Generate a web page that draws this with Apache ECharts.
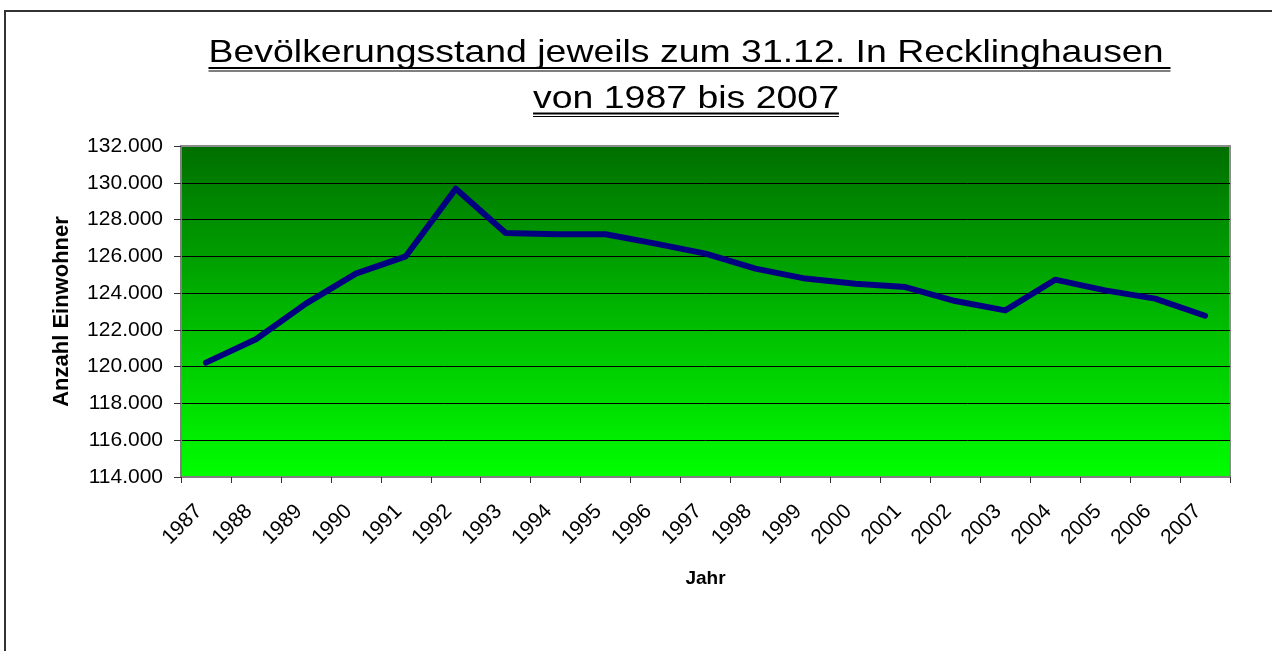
<!DOCTYPE html>
<html><head><meta charset="utf-8">
<script src="https://cdn.jsdelivr.net/npm/echarts@6/dist/echarts.min.js"></script>
<style>html,body{margin:0;padding:0;background:#fff;overflow:hidden}#c{width:1272px;height:651px}</style>
</head><body><div id="c"></div>
<script>
const years = ['1987','1988','1989','1990','1991','1992','1993','1994','1995','1996','1997','1998','1999','2000','2001','2002','2003','2004','2005','2006','2007'];
const population = [120220,121490,123430,125060,126000,129680,127270,127200,127200,126690,126150,125330,124790,124510,124330,123570,123060,124730,124150,123700,122770];
const yMin = 114000, yMax = 132000, yStep = 2000;
const titleLines = ['Bevölkerungsstand jeweils zum 31.12. In Recklinghausen', 'von 1987 bis 2007'];
const xName = 'Jahr';
const yName = 'Anzahl Einwohner';

const FONT = '"Liberation Sans", Arial, sans-serif';
const TITLE_SIZE = 32;
const cv = document.createElement('canvas').getContext('2d');
cv.font = TITLE_SIZE + 'px ' + FONT;
const w1 = cv.measureText(titleLines[0]).width;
const w2 = cv.measureText(titleLines[1]).width;
const sx = 955 / w1;
const cx = 686;
const lineDefs = [
  {text: titleLines[0], y: 53, w: w1 * sx, extra: 7, ul: 68},
  {text: titleLines[1], y: 99, w: w2 * sx, extra: 0, ul: 113.5}
];
const graphics = [
  {type: 'rect', shape: {x: 5, y: 11, width: 1400, height: 800}, style: {fill: 'none', stroke: '#333', lineWidth: 2}, silent: true}
];
lineDefs.forEach(d => {
  graphics.push({type: 'text', x: cx, y: d.y, scaleX: sx, originX: 0,
    style: {text: d.text, font: TITLE_SIZE + 'px ' + FONT, fill: '#000', textAlign: 'center', textVerticalAlign: 'middle'}});
  const x0 = cx - d.w / 2, x1 = cx + d.w / 2 + d.extra;
  graphics.push({type: 'line', shape: {x1: x0, y1: d.ul, x2: x1, y2: d.ul}, style: {stroke: '#000', lineWidth: 2.2}});
  graphics.push({type: 'line', shape: {x1: x0, y1: d.ul + 3, x2: x1, y2: d.ul + 3}, style: {stroke: '#000', lineWidth: 1.2}});
});

const fmt = v => String(v).replace(/\B(?=(\d{3})+(?!\d))/g, '.');
const chart = echarts.init(document.getElementById('c'), null, {renderer: 'canvas'});
chart.setOption({
  animation: false,
  backgroundColor: '#fff',
  textStyle: {fontFamily: FONT},
  grid: {left: 181, top: 146, right: 42, bottom: 174, show: true,
    backgroundColor: {type: 'linear', x: 0, y: 0, x2: 0, y2: 1,
      colorStops: [{offset: 0, color: '#006e00'}, {offset: 1, color: '#00ff00'}]},
    borderColor: '#8c8c8c', borderWidth: 2},
  xAxis: {
    type: 'category', data: years, boundaryGap: true,
    name: xName, nameLocation: 'middle', nameGap: 92,
    nameTextStyle: {fontSize: 19, fontWeight: 'bold', color: '#000', fontFamily: FONT},
    axisLine: {lineStyle: {color: '#808080', width: 2}},
    axisTick: {show: true, length: 6, lineStyle: {color: '#333', width: 1}},
    axisLabel: {rotate: 45, fontSize: 21, color: '#000', margin: 24, padding: [0, 10, 0, 0], fontFamily: FONT, interval: 0},
    splitLine: {show: false}
  },
  yAxis: {
    type: 'value', min: yMin, max: yMax, interval: yStep,
    name: yName, nameLocation: 'middle', nameGap: 108,
    nameTextStyle: {fontSize: 22, fontWeight: 'bold', color: '#000', fontFamily: FONT},
    axisLine: {show: true, lineStyle: {color: '#808080', width: 2}},
    axisTick: {show: true, length: 7, lineStyle: {color: '#333', width: 1}},
    axisLabel: {fontSize: 21, color: '#000', margin: 18, formatter: fmt, fontFamily: FONT},
    splitLine: {show: true, showMinLine: false, showMaxLine: false, lineStyle: {color: '#000', width: 1}}
  },
  series: [{
    type: 'line', data: population, symbol: 'none',
    lineStyle: {color: '#000080', width: 6, cap: 'round', join: 'round'}
  }],
  graphic: graphics
});
</script></body></html>
